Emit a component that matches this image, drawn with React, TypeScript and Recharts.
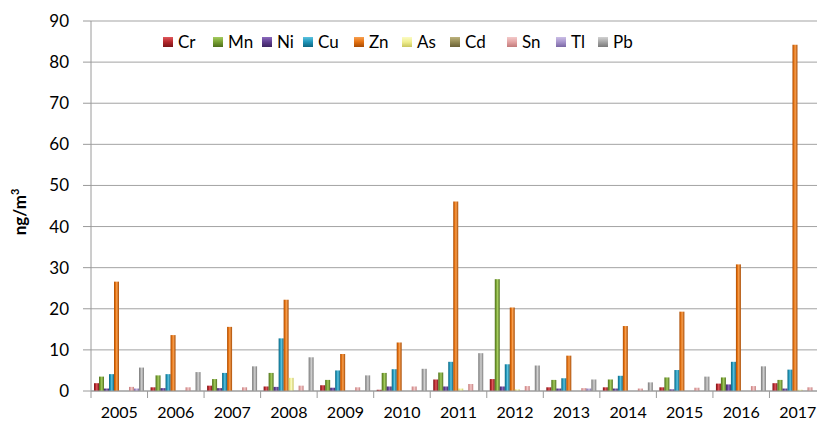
import React from "react";
import { BarChart, Bar, XAxis, YAxis, CartesianGrid } from "recharts";

const years = ["2005", "2006", "2007", "2008", "2009", "2010", "2011", "2012", "2013", "2014", "2015", "2016", "2017"];

const cr = [1.9, 0.9, 1.3, 1.1, 1.4, 0.3, 2.8, 2.9, 0.9, 0.9, 0.9, 1.8, 1.9];
const mn = [3.5, 3.8, 2.9, 4.4, 2.7, 4.4, 4.5, 27.2, 2.7, 2.8, 3.3, 3.3, 2.7];
const ni = [0.6, 0.7, 0.7, 1.0, 0.8, 1.1, 1.1, 1.1, 0.6, 0.6, 0.4, 1.6, 0.6];
const cu = [4.1, 4.1, 4.4, 12.8, 5.0, 5.3, 7.1, 6.5, 3.1, 3.7, 5.1, 7.1, 5.2];
const zn = [26.6, 13.6, 15.6, 22.2, 9.0, 11.8, 46.1, 20.3, 8.6, 15.8, 19.3, 30.8, 84.2];
const as = [0, 0, 0, 3.2, 0, 0, 0.6, 0.4, 0, 0, 0, 0, 0.3];
const cd = [0, 0, 0, 0, 0, 0, 0, 0, 0, 0, 0, 0, 0];
const sn = [1.0, 0.9, 0.9, 1.3, 0.9, 1.1, 1.7, 1.2, 0.7, 0.6, 0.8, 1.2, 0.9];
const tl = [0.6, 0, 0, 0, 0, 0, 0, 0, 0.6, 0, 0, 0, 0];
const pb = [5.7, 4.6, 6.0, 8.2, 3.8, 5.4, 9.2, 6.2, 2.8, 2.1, 3.5, 6.0, 0];

const yTicks = [0, 10, 20, 30, 40, 50, 60, 70, 80, 90];

const series = [
  { key: "Cr", values: cr, color: "#B3262B", dark: "#7A1518", light: "#E0585C" },
  { key: "Mn", values: mn, color: "#77A032", dark: "#4E6E1C", light: "#A5CC60" },
  { key: "Ni", values: ni, color: "#5E3D8E", dark: "#3C2461", light: "#8C6BBE" },
  { key: "Cu", values: cu, color: "#1E94B8", dark: "#0F6680", light: "#5CC3E0" },
  { key: "Zn", values: zn, color: "#E4700F", dark: "#A84C05", light: "#F8A050" },
  { key: "As", values: as, color: "#EFEE8E", dark: "#C9C65E", light: "#FBFBC4" },
  { key: "Cd", values: cd, color: "#948A54", dark: "#6A6136", light: "#BDB37E" },
  { key: "Sn", values: sn, color: "#E3A3A3", dark: "#C27B7B", light: "#F3CACA" },
  { key: "Tl", values: tl, color: "#A694CB", dark: "#7B68A5", light: "#CBBEE6" },
  { key: "Pb", values: pb, color: "#A5A5A5", dark: "#7A7A7A", light: "#D2D2D2" },
];

// left edge of each legend entry (icon), in px
const legendX = [163, 213, 262, 303, 354, 402, 450, 507, 556, 598];

const data = years.map((year, i) => {
  const row: Record<string, string | number> = { year };
  series.forEach((s) => {
    row[s.key] = s.values[i];
  });
  return row;
});

const FONT = "Lato, 'Open Sans', sans-serif";
const CHART_W = 836;
const LEFT = 91;
const RIGHT = 10;
const BAND = (CHART_W - LEFT - RIGHT) / years.length;

const YearTick = (props: any) => {
  const { x, y, payload } = props;
  return (
    <g>
      <line x1={x - BAND / 2} x2={x - BAND / 2} y1={y} y2={y + 7} stroke="#9A9A9A" />
      <text x={x} y={y + 27} textAnchor="middle" fontSize={16} fill="#000" fontFamily={FONT}>
        {payload.value}
      </text>
    </g>
  );
};

const YLabel = () => (
  <text
    transform="translate(26, 212) rotate(-90)"
    textAnchor="middle"
    fontSize={17}
    fontWeight="bold"
    fontFamily={FONT}
    fill="#000"
  >
    ng/m
    <tspan fontSize={11} dy={-7}>3</tspan>
  </text>
);

const LegendBox = () => (
  <div style={{ position: "absolute", left: 0, top: 31, fontFamily: FONT, fontSize: 17, color: "#000" }}>
    {series.map((s, i) => (
      <div
        key={s.key}
        style={{ position: "absolute", left: legendX[i], top: 0, display: "flex", alignItems: "center", whiteSpace: "nowrap" }}
      >
        <span
          style={{
            display: "inline-block",
            width: 10,
            height: 10,
            marginRight: 5,
            background: `linear-gradient(to bottom, ${s.light}, ${s.color} 50%, ${s.dark})`,
          }}
        />
        <span>{s.key}</span>
      </div>
    ))}
  </div>
);

export default function App() {
  return (
    <div style={{ position: "absolute", left: 0, top: 0, width: 817, height: 427, overflow: "hidden", background: "#fff" }}>
      <BarChart
        width={CHART_W}
        height={427}
        data={data}
        margin={{ top: 21, right: RIGHT, left: 0, bottom: 0 }}
        barCategoryGap={3}
        barGap={0}
      >
        <defs>
          {series.map((s) => (
            <linearGradient key={s.key} id={`g-${s.key}`} x1="0" y1="0" x2="1" y2="0">
              <stop offset="0%" stopColor={s.dark} />
              <stop offset="30%" stopColor={s.color} />
              <stop offset="55%" stopColor={s.light} />
              <stop offset="100%" stopColor={s.dark} />
            </linearGradient>
          ))}
        </defs>
        <CartesianGrid vertical={false} stroke="#A3A3A3" />
        <XAxis
          dataKey="year"
          height={36}
          tickLine={false}
          tickSize={0}
          tickMargin={0}
          tick={<YearTick />}
          axisLine={{ stroke: "#9A9A9A" }}
          interval={0}
        />
        <YAxis
          width={LEFT}
          domain={[0, 90]}
          ticks={yTicks}
          tickSize={8}
          tickMargin={14}
          tickLine={{ stroke: "#9A9A9A" }}
          axisLine={{ stroke: "#9A9A9A" }}
          tick={{ fontSize: 17, fill: "#000", fontFamily: FONT }}
          label={<YLabel />}
        />
        {series.map((s) => (
          <Bar key={s.key} dataKey={s.key} fill={`url(#g-${s.key})`} isAnimationActive={false} />
        ))}
      </BarChart>
      <LegendBox />
    </div>
  );
}
